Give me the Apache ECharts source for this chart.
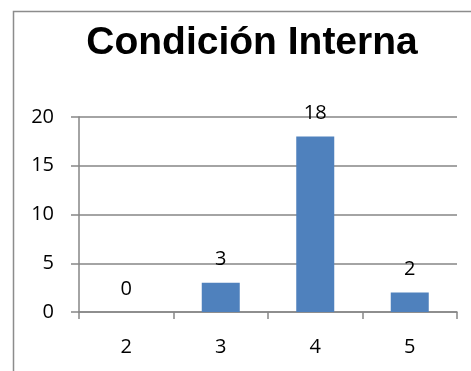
<!DOCTYPE html>
<html>
<head>
<meta charset="utf-8">
<style>
  html, body { margin: 0; padding: 0; background: #fff; }
  #chart { width: 471px; height: 371px; }
</style>
<script src="https://cdn.jsdelivr.net/npm/echarts@6/dist/echarts.min.js"></script>
</head>
<body>
<div id="chart"></div>
<script>
// Condición Interna: counts per rating level
const chartTitle = 'Condición Interna';
const categories = ['2', '3', '4', '5'];
const counts = [0, 3, 18, 2];
const yTicks = { min: 0, max: 20, interval: 5 };

const TITLE_FONT = '"Liberation Sans", Arial, sans-serif';
const FONT = '"Open Sans", "Liberation Sans", sans-serif';
const chart = echarts.init(document.getElementById('chart'), null, { renderer: 'canvas' });

chart.setOption({
  animation: false,
  backgroundColor: '#ffffff',
  graphic: [{
    type: 'rect',
    shape: { x: 13.5, y: 11.5, width: 600, height: 500 },
    style: { fill: 'none', stroke: '#8c8c8c', lineWidth: 1.5 },
    silent: true,
    z: 0
  }],
  title: {
    text: chartTitle,
    left: 247,
    top: 19,
    textAlign: 'center',
    textStyle: { fontFamily: TITLE_FONT, fontWeight: 'bold', fontSize: 39, color: '#000' }
  },
  grid: { left: 79, right: 14, top: 117, bottom: 59, containLabel: false },
  xAxis: {
    type: 'category',
    data: categories,
    axisLine: { lineStyle: { color: '#868686', width: 1.5 } },
    axisTick: { show: true, length: 7, lineStyle: { color: '#868686', width: 1.5 } },
    axisLabel: { fontFamily: FONT, fontSize: 20, color: '#000', margin: 25 },
    splitLine: { show: false }
  },
  yAxis: {
    type: 'value',
    min: yTicks.min,
    max: yTicks.max,
    interval: yTicks.interval,
    axisLine: { show: true, lineStyle: { color: '#868686', width: 1.5 } },
    axisTick: { show: true, length: 8, lineStyle: { color: '#868686', width: 1.5 } },
    axisLabel: { fontFamily: FONT, fontSize: 20, color: '#000', margin: 25 },
    splitLine: { show: true, lineStyle: { color: '#868686', width: 1.5 } }
  },
  series: [{
    type: 'bar',
    data: counts,
    barWidth: 38,
    itemStyle: { color: '#4f81bd' },
    label: {
      show: true,
      position: 'top',
      distance: 13,
      fontFamily: FONT,
      fontSize: 20,
      color: '#000'
    }
  }]
});
</script>
</body>
</html>
